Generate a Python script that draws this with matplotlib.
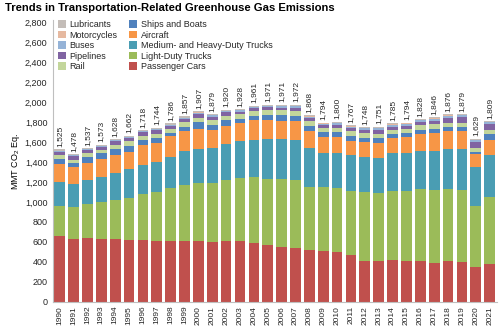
"""Stacked bars of U.S. transportation greenhouse gas emissions by source, 1990-2021."""

import matplotlib
matplotlib.use("Agg")
import matplotlib.pyplot as plt
import matplotlib.ticker as mticker
from matplotlib.patches import Patch

years = list(range(1990, 2022))

# MMT CO2 Eq. by source, bottom of the stack first
passenger_cars = [655, 627, 634, 627, 624, 619, 618, 612, 612, 612, 609, 600, 604, 606, 590, 567,
                  547, 537, 517, 507, 497, 464, 404, 404, 417, 404, 404, 390, 404, 397, 343, 377]
light_duty = [300, 318, 343, 370, 398, 421, 457, 482, 523, 555, 575, 587, 613, 628, 654, 660,
              677, 677, 627, 637, 637, 643, 690, 680, 693, 700, 720, 724, 720, 717, 615, 670]
med_heavy = [239, 229, 243, 253, 262, 284, 292, 306, 315, 340, 343, 350, 359, 373, 376, 400,
             403, 406, 393, 346, 356, 357, 353, 356, 377, 380, 383, 393, 403, 410, 392, 420]
aircraft = [188, 171, 170, 177, 183, 176, 198, 190, 207, 200, 207, 178, 184, 180, 197, 190,
            187, 187, 173, 160, 160, 146, 150, 150, 155, 161, 168, 180, 183, 184, 127, 153]
ships = [45, 41, 58, 57, 62, 62, 50, 48, 27, 43, 64, 55, 57, 40, 43, 50,
         53, 53, 47, 44, 47, 47, 43, 44, 35, 39, 49, 47, 40, 42, 25, 57]
rail = [39, 37, 38, 39, 42, 43, 43, 44, 44, 46, 46, 46, 46, 48, 48, 50,
        50, 51, 49, 43, 45, 48, 47, 48, 46, 46, 42, 43, 44, 42, 38, 39]
pipelines = [36, 32, 29, 27, 33, 33, 36, 37, 32, 34, 37, 37, 32, 28, 27, 28,
             27, 33, 33, 29, 29, 32, 32, 39, 31, 32, 30, 36, 48, 53, 61, 62]
buses = [9, 9, 9, 10, 10, 10, 10, 11, 11, 12, 12, 12, 12, 12, 13, 13,
         13, 14, 15, 15, 15, 16, 16, 17, 18, 19, 19, 20, 21, 21, 16, 18]
motorcycles = [2, 2, 2, 2, 2, 2, 2, 2, 2, 2, 2, 2, 2, 2, 2, 2,
               3, 3, 4, 4, 4, 4, 4, 4, 4, 4, 4, 4, 4, 4, 4, 4]
lubricants = [12, 12, 11, 11, 12, 12, 12, 12, 13, 13, 12, 12, 11, 11, 11, 11,
              11, 11, 10, 9, 10, 10, 9, 9, 9, 9, 9, 9, 9, 9, 8, 9]

series = [
    ("Passenger Cars", passenger_cars, "#C0504D"),
    ("Light-Duty Trucks", light_duty, "#9BBB59"),
    ("Medium- and Heavy-Duty Trucks", med_heavy, "#4A9DB3"),
    ("Aircraft", aircraft, "#F79646"),
    ("Ships and Boats", ships, "#4F81BD"),
    ("Rail", rail, "#C3D69B"),
    ("Pipelines", pipelines, "#8064A2"),
    ("Buses", buses, "#95B3D7"),
    ("Motorcycles", motorcycles, "#E6B9A0"),
    ("Lubricants", lubricants, "#C4BDB8"),
]

plt.rcParams.update({
    "font.family": ["Liberation Sans", "DejaVu Sans"],
    "font.size": 6,
    "mathtext.default": "regular",
    "text.color": "#262626",
    "xtick.color": "#262626",
    "ytick.color": "#262626",
})

fig = plt.figure(figsize=(5.0, 3.31), dpi=100)
ax = fig.add_axes([0.106, 0.0885, 0.888, 0.851])

x = list(range(len(years)))
bottom = [0] * len(years)
handles = {}
for name, vals, color in series:
    ax.bar(x, vals, bottom=bottom, width=0.77, color=color, linewidth=0)
    handles[name] = Patch(facecolor=color, edgecolor="none")
    bottom = [b + v for b, v in zip(bottom, vals)]

# total above each bar
for xi, tot in zip(x, bottom):
    ax.text(xi, tot + 25, f"{tot:,}", rotation=90, ha="center", va="bottom", fontsize=6)

ax.set_xlim(-0.483, 31.53)
ax.set_ylim(0, 2820)
ax.set_xticks(x)
ax.set_xticklabels([str(y) for y in years], rotation=90, fontsize=6)
ax.set_yticks(range(0, 2801, 200))
ax.yaxis.set_major_formatter(mticker.FuncFormatter(lambda v, p: f"{int(v):,}"))
ax.tick_params(axis="y", length=0, pad=4, labelsize=6.5)
ax.tick_params(axis="x", length=0, pad=3)
ax.set_ylabel("MMT CO$_2$ Eq.", fontsize=6.5, labelpad=2)

for side in ("top", "right"):
    ax.spines[side].set_visible(False)
for side in ("left", "bottom"):
    ax.spines[side].set_color("#BFBFBF")
    ax.spines[side].set_linewidth(0.8)

order = ["Lubricants", "Motorcycles", "Buses", "Pipelines", "Rail",
         "Ships and Boats", "Aircraft", "Medium- and Heavy-Duty Trucks",
         "Light-Duty Trucks", "Passenger Cars"]
ax.legend([handles[n] for n in order], order, ncol=2, loc="upper left",
          bbox_to_anchor=(0.0, 1.015), frameon=False, fontsize=6.5,
          handlelength=0.9, handleheight=0.9, handletextpad=0.45,
          labelspacing=0.16, columnspacing=1.2, borderaxespad=0.1)

fig.text(0.01, 0.975, "Trends in Transportation-Related Greenhouse Gas Emissions",
         fontsize=8.1, fontweight="bold", ha="left", va="center", color="black")

fig.savefig("out.png", dpi=100)
